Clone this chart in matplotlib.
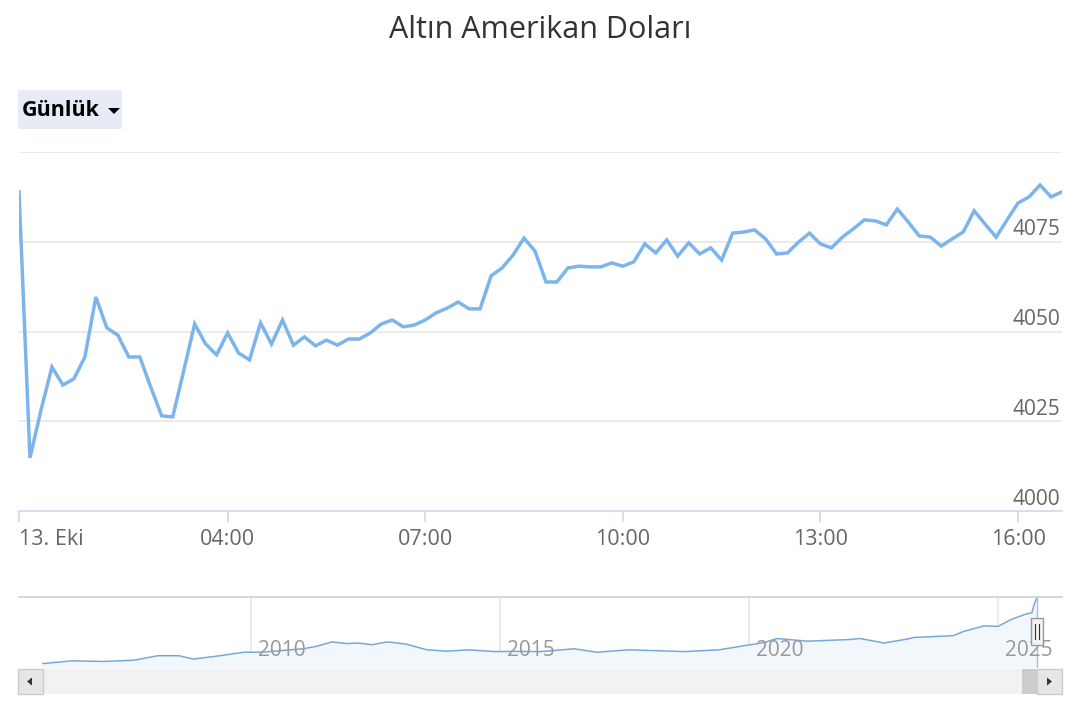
import matplotlib
matplotlib.use("Agg")
import matplotlib.pyplot as plt
import matplotlib.dates as mdates
from matplotlib.patches import Rectangle, FancyBboxPatch, Polygon
import pandas as pd

plt.rcParams['font.family'] = ['Open Sans', 'DejaVu Sans']

title = "Altın Amerikan Doları"
range_button = "Günlük"

# 10-minute gold prices (USD) for 13 Oct
prices = [4088.9, 4014.8, 4028.1, 4040.1, 4035.1, 4036.8, 4042.9, 4059.6, 4051.0, 4049.0,
          4042.9, 4042.9, 4034.5, 4026.5, 4026.2, 4039.0, 4052.1, 4046.5, 4043.5, 4049.6,
          4044.0, 4042.1, 4052.4, 4046.5, 4053.2, 4046.2, 4048.5, 4046.0, 4047.6, 4046.2,
          4047.9, 4047.9,
          4049.6, 4052.1, 4053.2, 4051.3, 4051.8, 4053.2, 4055.2, 4056.5, 4058.2, 4056.3,
          4056.3, 4065.5, 4067.7, 4071.3, 4076.0, 4072.4, 4063.8, 4063.8, 4067.7, 4068.2,
          4068.0, 4068.0, 4069.1, 4068.2, 4069.4, 4074.4, 4071.9, 4075.5, 4071.0, 4074.7,
          4071.6,
          4073.3, 4069.9, 4077.4, 4077.7, 4078.3, 4075.8, 4071.6, 4071.9, 4074.9, 4077.4,
          4074.4, 4073.3, 4076.3, 4078.6, 4081.1, 4080.8, 4079.7, 4084.1, 4080.5, 4076.6,
          4076.3, 4073.8, 4075.8, 4077.7, 4083.6, 4079.9, 4076.3, 4081.1, 4085.8, 4087.5,
          4090.8, 4087.5, 4088.9]
times = pd.date_range("2025-10-13 00:50", periods=len(prices), freq="10min")

first_label = "13. Eki"
hour_labels = ["04:00", "07:00", "10:00", "13:00", "16:00"]
y_ticks = [4000, 4025, 4050, 4075]

# navigator: long-term history
nav_years = [2005.82, 2006.41, 2007.03, 2007.65, 2008.13, 2008.55, 2008.84, 2009.38, 2009.86,
             2010.20, 2011.04, 2011.31, 2011.63, 2011.93, 2012.15, 2012.43, 2012.73, 2013.11,
             2013.53, 2013.94, 2014.36, 2014.90, 2015.30, 2015.80, 2016.49, 2016.95, 2017.59,
             2018.69, 2019.40, 2019.94, 2020.30, 2020.56, 2021.18, 2022.03, 2022.23, 2022.71,
             2023.13, 2023.33, 2024.10, 2024.30, 2024.72, 2025.00, 2025.26, 2025.54, 2025.68,
             2025.74, 2025.78]
nav_prices = [843, 981, 947, 1011, 1234, 1234, 1066, 1234, 1407,
              1407, 1575, 1694, 1917, 1833, 1862, 1778, 1917, 1813,
              1526, 1457, 1526, 1437, 1450, 1437, 1575, 1407, 1526,
              1437, 1526, 1744, 1882, 2085, 1952, 2036, 2085, 1862,
              2036, 2140, 2224, 2427, 2714, 2684, 3021, 3278, 3362,
              3872, 4090]
nav_year_ticks = [2010, 2015, 2020, 2025]

W, H = 1080, 720
fig = plt.figure(figsize=(10.8, 7.2), dpi=100)

def frac(x0, y0, x1, y1):
    return [x0 / W, 1 - y1 / H, (x1 - x0) / W, (y1 - y0) / H]

line_color = '#7cb5ec'
grid_color = '#e6e6e6'
label_color = '#666666'

# main chart
ax = fig.add_axes(frac(19, 152, 1062, 511))
xs = mdates.date2num(times)
ax.plot(xs, prices, color=line_color, lw=2.5, solid_joinstyle='miter')
ax.set_xlim(xs[0], xs[-1])
ax.set_ylim(4000, 4100)
for v in y_ticks[1:] + [4100]:
    ax.axhline(v, color=grid_color, lw=1.1, zorder=0)
for s in ['top', 'left', 'right']:
    ax.spines[s].set_visible(False)
ax.spines['bottom'].set_color('#ccd6eb')
ax.spines['bottom'].set_linewidth(1.1)
ax.set_yticks([])
for v in y_ticks:
    ax.annotate(str(v), xy=(1.0, v), xycoords=ax.get_yaxis_transform(),
                xytext=(-1, 1), textcoords='offset points', ha='right', va='bottom',
                fontsize=15, color=label_color)
hour_pos = [mdates.date2num(pd.Timestamp("2025-10-13 " + h)) for h in hour_labels]
ax.set_xticks([xs[0]] + hour_pos)
ax.set_xticklabels([first_label] + hour_labels)
ax.tick_params(axis='x', length=8, width=1.1, color='#ccd6eb', pad=5,
               labelsize=15.5, labelcolor=label_color)
ax.get_xticklabels()[0].set_horizontalalignment('left')

# navigator
x0_year = 2010 + (19 - 251) / 49.8
x1_year = 2010 + (1062 - 251) / 49.8
nav = fig.add_axes(frac(19, 597, 1062, 668))
nav.set_xlim(x0_year, x1_year)
nav.set_ylim(625, 4140)
nav.fill_between(nav_years, nav_prices, 625, color='#f2f7fc', lw=0)
nav.plot(nav_years, nav_prices, color='#7aa8d4', lw=1.1)
for yr in nav_year_ticks:
    nav.axvline(yr, color=grid_color, lw=1.1, zorder=0)
    nav.annotate(str(yr), xy=(yr, 0.25), xycoords=nav.get_xaxis_transform(),
                 xytext=(5, 0), textcoords='offset points', ha='left', va='center',
                 fontsize=15, color='#999999')
nav.axvline(nav_years[-1], color='#bbbbbb', lw=1.0)
for s in ['left', 'right', 'bottom']:
    nav.spines[s].set_visible(False)
nav.spines['top'].set_color('#cccccc')
nav.spines['top'].set_linewidth(1.1)
nav.set_xticks([])
nav.set_yticks([])

# overlay in pixel coordinates for the controls
ov = fig.add_axes([0, 0, 1, 1])
ov.set_xlim(0, W)
ov.set_ylim(H, 0)
ov.axis('off')

fig.text(0.5, 1 - 30 / H, title, ha='center', va='center', fontsize=22, color='#333333')

ov.add_patch(FancyBboxPatch((18, 90), 104, 39, boxstyle='round,pad=0,rounding_size=2',
                            fc='#e6ebf5', ec='none'))
ov.text(22, 110, range_button, ha='left', va='center', fontsize=15.5, fontweight='bold',
        color='#000000')
ov.add_patch(Polygon([(108, 108), (120, 108), (114, 114)], closed=True, fc='#000000', ec='none'))

# scrollbar
ov.add_patch(Rectangle((18, 669), 1044, 25, fc='#f2f2f2', ec='none'))
ov.add_patch(Rectangle((18, 669), 25, 25, fc='#e6e6e6', ec='#cccccc', lw=1))
ov.add_patch(Polygon([(27, 681.5), (32, 677.5), (32, 685.5)], closed=True, fc='#333333', ec='none'))
ov.add_patch(Rectangle((1022, 669), 15, 25, fc='#cccccc', ec='none'))
ov.add_patch(Rectangle((1037, 669), 25, 25, fc='#e6e6e6', ec='#cccccc', lw=1))
ov.add_patch(Polygon([(1052, 681.5), (1047, 677.5), (1047, 685.5)], closed=True, fc='#333333', ec='none'))

# navigator handle at the end of the selected range
hx = 19 + (nav_years[-1] - x0_year) / (x1_year - x0_year) * (1062 - 19)
ov.add_patch(Rectangle((hx - 6, 618), 12, 27, fc='#f2f2f2', ec='#999999', lw=1))
ov.plot([hx - 2, hx - 2], [624, 639], color='#333333', lw=0.8)
ov.plot([hx + 2, hx + 2], [624, 639], color='#333333', lw=0.8)

fig.savefig('out.png', dpi=100)
